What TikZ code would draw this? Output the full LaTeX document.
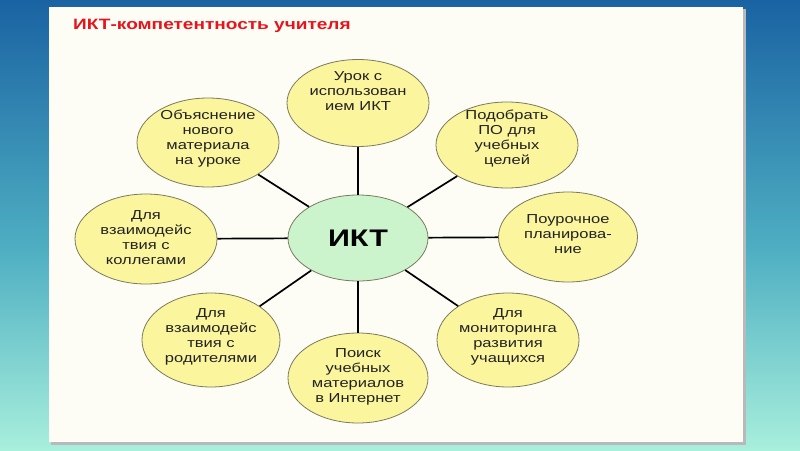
\documentclass[tikz,border=0pt]{standalone}
\usepackage{fontspec}
\setmainfont[FakeStretch=1.27]{Liberation Sans}
\usetikzlibrary{shapes.geometric}
\definecolor{bgtop}{HTML}{1A63A3}
\definecolor{bgmid}{HTML}{4FAFC2}
\definecolor{bgbot}{HTML}{A8EFDC}
\definecolor{panelc}{HTML}{FDFDF6}
\definecolor{bubfill}{HTML}{FBF59D}
\definecolor{bubline}{HTML}{7A7A5C}
\definecolor{hubfill}{HTML}{CCF4CC}
\definecolor{titlered}{HTML}{E8141C}
\definecolor{txtc}{HTML}{222222}
\tikzset{
  bubble/.style={ellipse, draw=bubline, line width=0.8pt, fill=bubfill, inner sep=0pt},
  bubtext/.style={align=center, text=txtc, inner sep=0pt, font=\fontsize{13}{15}\selectfont},
  hubnode/.style={ellipse, draw=bubline, line width=0.8pt, fill=hubfill, inner sep=0pt,
    minimum width=140pt, minimum height=86pt, font=\bfseries\fontsize{24}{26}\selectfont, text=black},
  spoke/.style={line width=1.7pt, black},
  titlestyle/.style={text=titlered, font=\bfseries\fontsize{15}{17}\selectfont, inner sep=0pt}
}
\begin{document}
\begin{tikzpicture}[x=1pt,y=-1pt]
\useasboundingbox (0,0) rectangle (800,450);
\shade[top color=bgtop, bottom color=bgmid] (0,0) rectangle (800,251);
\shade[top color=bgmid, bottom color=bgbot] (0,250) rectangle (800,450);
\fill[gray!55] (51,9) rectangle (746,445);
\fill[panelc] (49,7) rectangle (743,442);

\node[titlestyle, anchor=west] (title) at (73,26) {ИКТ-компетентность учителя};

\node[hubnode] (c) at (358,238) {ИКТ};

\node[bubble, minimum width=142pt, minimum height=87pt] (n1) at (358,103) {};
\node[bubble, minimum width=142pt, minimum height=86pt] (n2) at (507,145) {};
\node[bubble, minimum width=139pt, minimum height=90pt] (n3) at (568,237) {};
\node[bubble, minimum width=142pt, minimum height=94pt] (n4) at (508,340) {};
\node[bubble, minimum width=140pt, minimum height=90pt] (n5) at (358,378) {};
\node[bubble, minimum width=138pt, minimum height=94pt] (n6) at (211,340) {};
\node[bubble, minimum width=142pt, minimum height=90pt] (n7) at (146,239) {};
\node[bubble, minimum width=142pt, minimum height=89pt] (n8) at (208,142.5) {};

\foreach \n in {n1,n2,n3,n4,n5,n6,n7,n8} \draw[spoke] (c) -- (\n);

\node[bubtext] (t1) at (358,91) {Урок с\\использован\\ием ИКТ};
\node[bubtext] (t2) at (507,139) {Подобрать\\ПО для\\учебных\\целей};
\node[bubtext] (t3) at (568,234) {Поурочное\\планирова-\\ние};
\node[bubtext] (t4) at (508,337) {Для\\мониторинга\\развития\\учащихся};
\node[bubtext] (t5) at (358,377) {Поиск\\учебных\\материалов\\в Интернет};
\node[bubtext] (t6) at (211,337) {Для\\взаимодейс\\твия с\\родителями};
\node[bubtext] (t7) at (146,238) {Для\\взаимодейс\\твия с\\коллегами};
\node[bubtext] (t8) at (208,139) {Объяснение\\нового\\материала\\на уроке};
\end{tikzpicture}
\end{document}
